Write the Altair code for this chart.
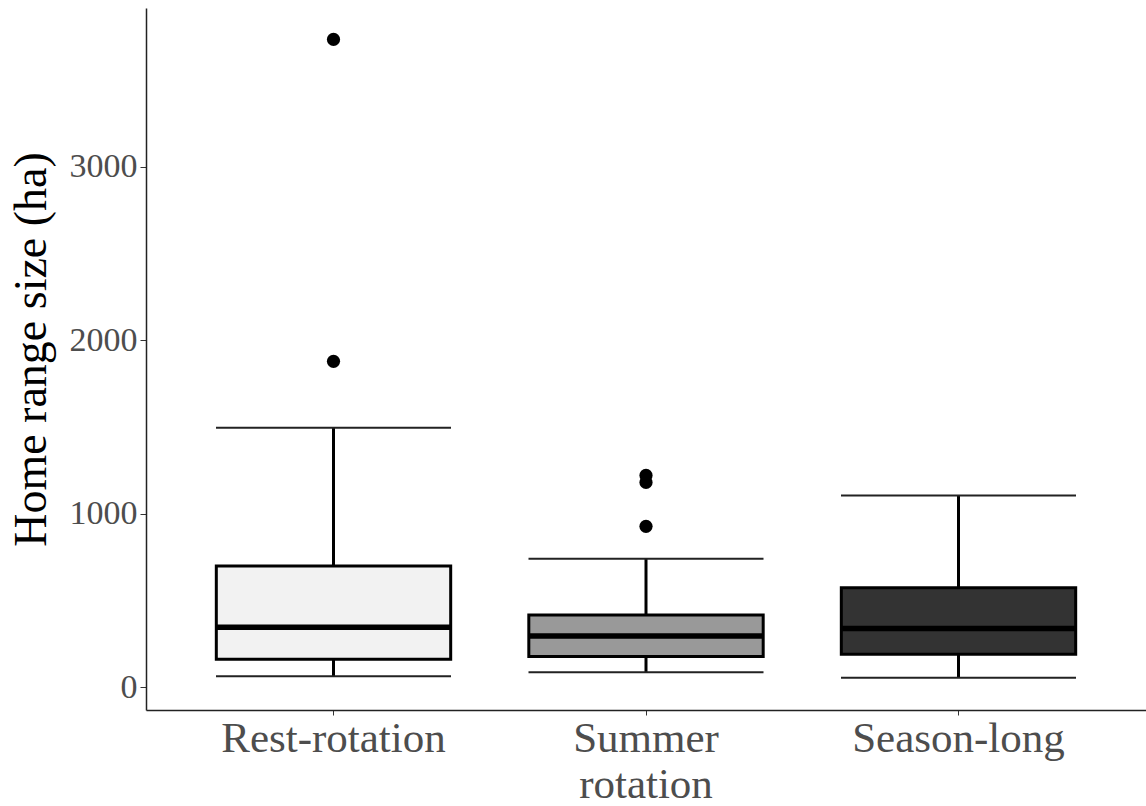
import altair as alt
import pandas as pd

# Box-plot summaries of home range size per grazing system
groups = ["Rest-rotation", "Summer rotation", "Season-long"]
fills = ["#f2f2f2", "#999999", "#333333"]
whisker_low = [62, 85, 54]
q1 = [161, 177, 190]
median = [345, 295, 338]
q3 = [698, 416, 573]
whisker_high = [1495, 740, 1105]

# Points beyond the whiskers
outlier_groups = ["Rest-rotation", "Rest-rotation", "Summer rotation", "Summer rotation", "Summer rotation"]
outlier_values = [3734, 1878, 1220, 1180, 927]

boxes = pd.DataFrame({
    "group": groups, "fill": fills, "lo": whisker_low, "q1": q1,
    "med": median, "q3": q3, "hi": whisker_high,
})
outs = pd.DataFrame({"group": outlier_groups, "value": outlier_values})

FONT = "Liberation Serif"
x_scale = alt.Scale(type="band", domain=groups, paddingInner=0.25, paddingOuter=0.225)
y_scale = alt.Scale(domain=[-132, 3915], nice=False, zero=False)

x_enc = alt.X(
    "group:N", scale=x_scale, sort=groups, title=None,
    axis=alt.Axis(
        labelAngle=0, labelFont=FONT, labelFontSize=43, labelColor="#4d4d4d",
        labelLineHeight=46, labelPadding=2, labelLimit=0, tickSize=5,
        tickColor="#333333", domainColor="#222222", domainWidth=1.5,
        labelBaseline="top",
        labelExpr="datum.label == 'Summer rotation' ? ['Summer', 'rotation'] : datum.label",
    ),
)
y_axis = alt.Axis(
    values=[0, 1000, 2000, 3000], format="d", grid=False, labelFont=FONT,
    labelFontSize=34, labelColor="#4d4d4d", tickSize=6, tickColor="#333333",
    domainColor="#222222", domainWidth=1.5, labelPadding=3, labelLimit=0,
    title="Home range size (ha)", titleFont=FONT, titleFontSize=46,
    titleFontWeight="normal", titleColor="#000000", titlePadding=14, titleY=341,
)

base = alt.Chart(boxes).encode(x=x_enc)

whiskers = base.mark_rule(color="#000000", strokeWidth=3).encode(
    y=alt.Y("lo:Q", scale=y_scale, axis=y_axis), y2="hi:Q"
)
caps_hi = base.mark_tick(color="#222222", opacity=1, thickness=2, size=235, orient="horizontal").encode(
    y=alt.Y("hi:Q", scale=y_scale)
)
caps_lo = base.mark_tick(color="#222222", opacity=1, thickness=2, size=235, orient="horizontal").encode(
    y=alt.Y("lo:Q", scale=y_scale)
)
box = base.mark_bar(stroke="#000000", strokeWidth=3, opacity=1).encode(
    y=alt.Y("q1:Q", scale=y_scale), y2="q3:Q",
    fill=alt.Fill("fill:N", scale=None, legend=None),
)
med = base.mark_tick(color="#000000", opacity=1, thickness=5.5, size=235, orient="horizontal").encode(
    y=alt.Y("med:Q", scale=y_scale)
)
points = alt.Chart(outs).mark_circle(size=175, color="#000000", opacity=1).encode(
    x=alt.X("group:N", scale=x_scale, sort=groups),
    y=alt.Y("value:Q", scale=y_scale),
)

chart = (
    alt.layer(whiskers, caps_hi, caps_lo, box, med, points)
    .properties(
        width=1000, height=702,
        autosize=alt.AutoSizeParams(type="none"),
        padding={"left": 146, "top": 8, "right": 0, "bottom": 96},
        background="#ffffff",
    )
    .configure_view(stroke=None)
)

chart.save("out.html", embed_options={"renderer": "svg", "actions": False})
